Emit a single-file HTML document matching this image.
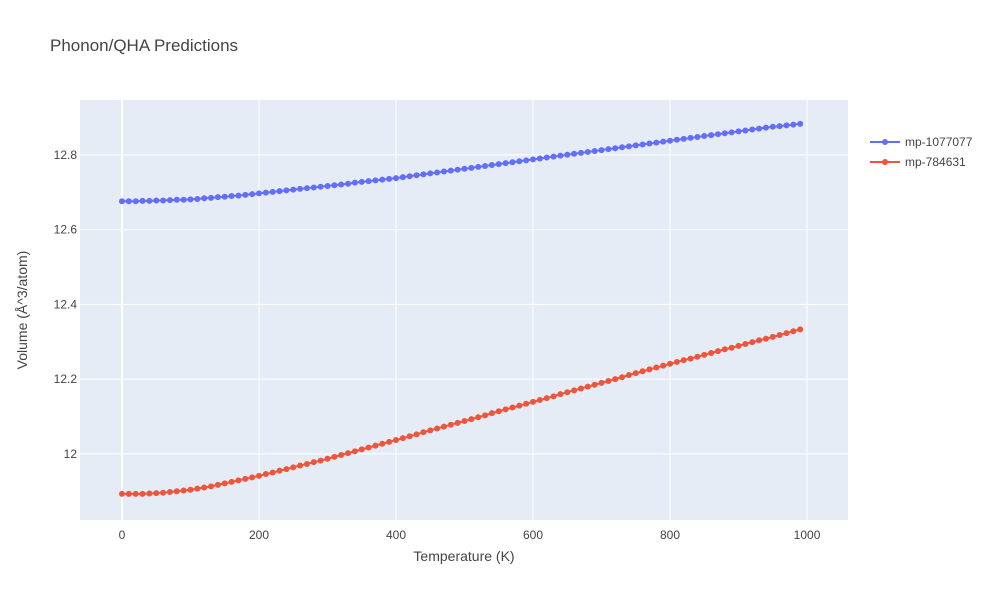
<!DOCTYPE html>
<html><head><meta charset="utf-8"><style>
body{margin:0;background:#fff;font-family:"Liberation Sans",Arial,sans-serif}
</style></head><body>
<svg id="chart" width="1000" height="600" xmlns="http://www.w3.org/2000/svg" font-family="Liberation Sans, Arial, sans-serif">
<rect x="0" y="0" width="1000" height="600" fill="#fff"/>
<text x="50" y="51" font-size="17" fill="#444">Phonon/QHA Predictions</text>
<rect x="80" y="100" width="768" height="420" fill="#e5ecf6"/>
<g id="grid"></g><g id="ticks"></g><g id="series"></g>
<text x="464" y="561" font-size="14" fill="#444" text-anchor="middle">Temperature (K)</text>
<text transform="translate(27,310) rotate(-90)" font-size="14" fill="#444" text-anchor="middle">Volume (Å^3/atom)</text>
<g>
<g>
<line x1="870" y1="142" x2="900" y2="142" stroke="#636efa" stroke-width="2"/><circle cx="885" cy="142" r="3" fill="#636efa"/>
<text x="905" y="146" font-size="12" fill="#444">mp-1077077</text></g>
<g>
<line x1="870" y1="162" x2="900" y2="162" stroke="#ef553b" stroke-width="2"/><circle cx="885" cy="162" r="3" fill="#ef553b"/>
<text x="905" y="166" font-size="12" fill="#444">mp-784631</text></g>
</g>
</svg>
<script>
const temps = [];
for (let t = 0; t <= 990; t += 10) temps.push(t);
const seriesNames = ["mp-1077077","mp-784631"];
const blueValues = [12.676,12.676,12.676,12.677,12.677,12.678,12.678,12.679,12.680,12.680,12.681,
12.682,12.684,12.685,12.687,12.688,12.690,12.691,12.693,12.695,12.697,
12.699,12.701,12.703,12.705,12.707,12.709,12.711,12.713,12.715,12.717,12.719,12.721,12.723,12.726,12.728,12.730,12.732,12.734,12.736,12.738,
12.7405,12.743,12.7455,12.748,12.7505,12.753,12.7555,12.758,12.7605,12.763,12.7655,12.768,12.7705,12.773,12.7755,12.778,12.7805,12.783,12.7855,12.788,
12.7905,12.793,12.7955,12.798,12.8005,12.803,12.8055,12.808,12.8105,12.813,12.8155,12.818,12.8205,12.823,12.8255,12.828,12.8305,12.833,12.8355,12.838,
12.8405,12.843,12.8455,12.848,12.8505,12.853,12.8555,12.858,12.8605,12.863,12.8655,12.868,12.8705,12.873,12.8755,12.877,12.879,12.881,12.883];
const redValues = [11.893,11.893,11.893,11.893,11.894,11.895,11.896,11.898,11.900,11.902,11.904,
11.907,11.910,11.913,11.917,11.921,11.925,11.929,11.933,11.937,11.941,
11.946,11.950,11.955,11.959,11.964,11.969,11.973,11.978,11.982,11.987,
11.992,11.997,12.002,12.007,12.012,12.017,12.022,12.027,12.032,12.037,
12.042,12.047,12.052,12.058,12.063,12.068,12.073,12.078,12.083,12.088,
12.093,12.098,12.103,12.109,12.114,12.119,12.124,12.129,12.134,12.139,
12.144,12.149,12.154,12.160,12.165,12.170,12.175,12.180,12.185,12.190,
12.195,12.200,12.205,12.211,12.216,12.221,12.226,12.231,12.236,12.241,
12.246,12.251,12.255,12.260,12.265,12.270,12.275,12.280,12.284,12.289,
12.294,12.299,12.304,12.308,12.313,12.318,12.323,12.328,12.333];
const xTicks = [0,200,400,600,800,1000];
const yTicks = [12.0,12.2,12.4,12.6,12.8];
const yTickLabels = ["12","12.2","12.4","12.6","12.8"];

const NS="http://www.w3.org/2000/svg";
const X0=80,X1=848,Y0=100,Y1=520;
const xMin=-61.3,xMax=1059.8,yMin=11.823,yMax=12.947;
const xs=v=>X0+(v-xMin)/(xMax-xMin)*(X1-X0);
const ys=v=>Y1-(v-yMin)/(yMax-yMin)*(Y1-Y0);
function mk(tag,attrs,parent){const e=document.createElementNS(NS,tag);for(const k in attrs)e.setAttribute(k,attrs[k]);parent.appendChild(e);return e;}
const grid=document.getElementById('grid'),ticks=document.getElementById('ticks'),ser=document.getElementById('series');
xTicks.forEach(t=>{
  const l=mk('line',{x1:xs(t),x2:xs(t),y1:Y0,y2:Y1,stroke:'#fff','stroke-width':t===0?2:1},grid);
  
  
  const tx=mk('text',{x:xs(t),y:Y1+19,'font-size':12,fill:'#444','text-anchor':'middle'},ticks);
  tx.textContent=t;
  
  
});
yTicks.forEach((t,i)=>{
  const l=mk('line',{x1:X0,x2:X1,y1:ys(t),y2:ys(t),stroke:'#fff','stroke-width':1},grid);
  
  
  const tx=mk('text',{x:X0-3,y:ys(t)+4,'font-size':12,fill:'#444','text-anchor':'end'},ticks);
  tx.textContent=yTickLabels[i];
  
  
});
[[blueValues,'#636efa','series-mp-1077077'],[redValues,'#ef553b','series-mp-784631']].forEach(([vals,col,name])=>{
  const g=mk('g',{},ser);
  
  
  const d=vals.map((v,i)=>(i?'L':'M')+xs(temps[i]).toFixed(2)+','+ys(v).toFixed(2)).join('');
  const p=mk('path',{d:d,stroke:col,'stroke-width':2,fill:'none'},g);
  
  
  vals.forEach((v,i)=>{
    const c=mk('circle',{cx:xs(temps[i]),cy:ys(v),r:3,fill:col},g);
    
    
  });
});
</script>
</body></html>
